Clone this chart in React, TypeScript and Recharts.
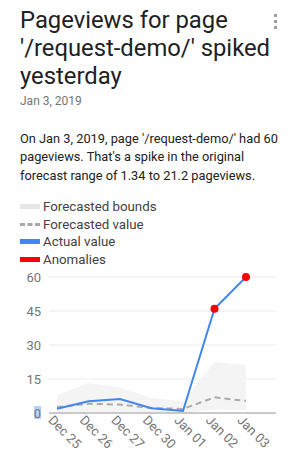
import React from "react";
import { ComposedChart, Area, Line, XAxis, YAxis, CartesianGrid } from "recharts";

const dates = ["Dec 25", "Dec 26", "Dec 27", "Dec 30", "Jan 01", "Jan 02", "Jan 03"];
const actual = [1.9, 5.2, 6.2, 2.1, 0.9, 46, 60];
const forecast = [2.6, 4.1, 3.7, 2.2, 1.8, 6.9, 5.3];
const upperBound = [7.8, 13.4, 11.2, 6.6, 5.2, 22.5, 21.2];
const lowerBound = [0, 0, 0, 0, 0, 1.5, 1.34];
const anomalies = [null, null, null, null, null, 46, 60];
const yTicks = [0, 15, 30, 45, 60];

const titleLines = ["Pageviews for page", "'/request-demo/' spiked", "yesterday"];
const summaryLines = [
  "On Jan 3, 2019, page '/request-demo/' had 60",
  "pageviews. That's a spike in the original",
  "forecast range of 1.34 to 21.2 pageviews.",
];

const legendItems = [
  { label: "Forecasted bounds", color: "#e6e6e6", dashed: false },
  { label: "Forecasted value", color: "#a8a8a8", dashed: true },
  { label: "Actual value", color: "#4285f4", dashed: false },
  { label: "Anomalies", color: "#ff0000", dashed: false },
];

const data = dates.map((d, i) => ({
  date: d,
  actual: actual[i],
  forecast: forecast[i],
  bounds: [lowerBound[i], upperBound[i]],
  anomaly: anomalies[i],
}));

const FONT = "Roboto, 'Noto Sans', sans-serif";

const LegendBox = () => (
  <div style={{ fontFamily: FONT, fontSize: 13.3, color: "#424242" }}>
    {legendItems.map((it) => (
      <div key={it.label} style={{ display: "flex", alignItems: "center", height: 17.5 }}>
        {it.dashed ? (
          <svg width={20} height={5} style={{ marginRight: 3 }}>
            <line x1={0} y1={2.5} x2={20} y2={2.5} stroke={it.color} strokeWidth={3} strokeDasharray="5 2.5" />
          </svg>
        ) : (
          <div style={{ width: 20, height: 5, background: it.color, marginRight: 3 }} />
        )}
        <span>{it.label}</span>
      </div>
    ))}
  </div>
);

const XTick = (props: any) => {
  const { x, y, payload } = props;
  return (
    <text
      transform={`translate(${x - 9.5},${y}) rotate(45)`}
      textAnchor="start"
      fontSize={13}
      fontFamily={FONT}
      fill="#757575"
    >
      {payload.value}
    </text>
  );
};

const YTick = (props: any) => {
  const { x, y, payload } = props;
  return (
    <g>
      {payload.value === 0 && <rect x={x - 7} y={y - 7} width={7} height={13} fill="#b3d4fc" />}
      <text x={x} y={y} dy="0.355em" textAnchor="end" fontSize={13} fontFamily={FONT} fill="#757575">
        {payload.value}
      </text>
    </g>
  );
};

export default function App() {
  return (
    <div style={{ position: "absolute", left: 0, top: 0, width: 294, height: 466, background: "#fff", fontFamily: FONT }}>
      <div
        style={{
          position: "absolute",
          left: 20,
          top: 6,
          fontSize: 23.8,
          lineHeight: "28px",
          color: "#202124",
          whiteSpace: "nowrap",
        }}
      >
        {titleLines.map((l) => (
          <div key={l}>{l}</div>
        ))}
      </div>
      <div style={{ position: "absolute", left: 274, top: 14 }}>
        {[0, 1, 2].map((i) => (
          <div key={i} style={{ width: 3, height: 3, background: "#9e9e9e", marginBottom: 3 }} />
        ))}
      </div>
      <div style={{ position: "absolute", left: 20, top: 94, fontSize: 12, lineHeight: "14px", color: "#757575" }}>
        Jan 3, 2019
      </div>
      <div
        style={{
          position: "absolute",
          left: 20,
          top: 130,
          fontSize: 12.8,
          lineHeight: "18.4px",
          color: "#212121",
          whiteSpace: "nowrap",
        }}
      >
        {summaryLines.map((l) => (
          <div key={l}>{l}</div>
        ))}
      </div>
      <div style={{ position: "absolute", left: 20, top: 198 }}>
        <LegendBox />
      </div>
      <div style={{ position: "absolute", left: 0, top: 260 }}>
        <ComposedChart width={294} height={206} data={data} margin={{ top: 17, right: 18, left: 0, bottom: 0 }}>
          <CartesianGrid vertical={false} stroke="#ebebeb" />
          <XAxis
            dataKey="date"
            padding={{ left: 8, right: 30 }}
            height={53}
            tickLine={false}
            axisLine={{ stroke: "#9e9e9e" }}
            tick={<XTick />}
            interval={0}
          />
          <YAxis width={49} domain={[0, 60]} ticks={yTicks} axisLine={false} tickLine={false} tick={<YTick />} />
          <Area dataKey="bounds" stroke="none" fill="#f4f4f4" fillOpacity={1} isAnimationActive={false} />
          <Line dataKey="forecast" stroke="#ababab" strokeWidth={2} strokeDasharray="6 4" dot={false} isAnimationActive={false} />
          <Line dataKey="actual" stroke="#4285f4" strokeWidth={2} dot={false} isAnimationActive={false} />
          <Line
            dataKey="anomaly"
            stroke="none"
            dot={{ r: 4, fill: "#ff0000", stroke: "none" }}
            isAnimationActive={false}
          />
        </ComposedChart>
      </div>
    </div>
  );
}
